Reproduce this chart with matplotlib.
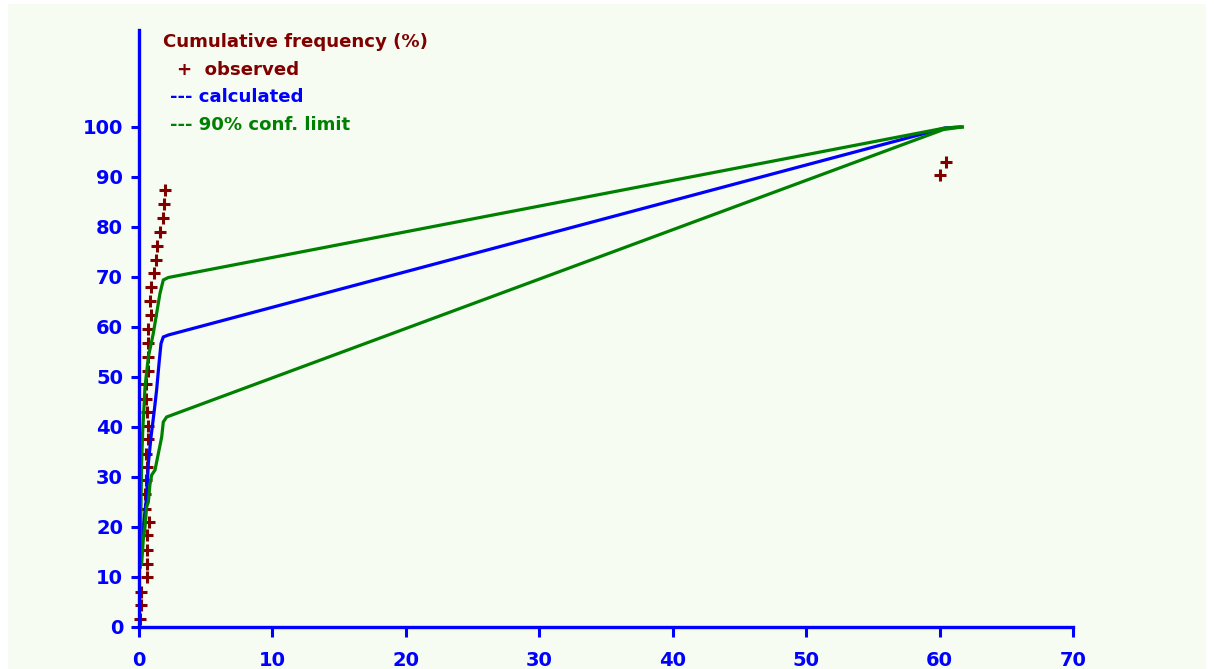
import matplotlib
matplotlib.use("Agg")
import matplotlib.pyplot as plt
from matplotlib.patches import Rectangle

# observed cumulative frequency points (x, %)
obs_x = [0.07, 0.15, 0.15, 0.57, 0.57, 0.57, 0.62, 0.75, 0.45, 0.45, 0.5, 0.62,
         0.52, 0.65, 0.65, 0.57, 0.52, 0.52, 0.65, 0.65, 0.65, 0.7, 0.9, 0.82,
         0.9, 1.12, 1.25, 1.37, 1.6, 1.8, 1.9, 1.95, 60.05, 60.5]
obs_y = [1.7, 4.4, 7.1, 10.1, 12.7, 15.5, 18.4, 21.0, 23.7, 26.6, 29.5, 32.0,
         34.7, 37.7, 40.2, 43.1, 45.7, 48.6, 51.3, 54.1, 56.9, 59.7, 62.4, 65.3,
         68.1, 70.9, 73.5, 76.2, 79.1, 81.9, 84.7, 87.4, 90.4, 93.1]

# calculated curve
calc_x = [0.05, 0.1, 0.32, 0.57, 0.7, 0.9, 1.15, 1.32, 1.5, 1.65, 1.82, 2.2, 60.4, 61.5]
calc_y = [12.0, 16.0, 20.0, 26.0, 32.7, 38.0, 43.4, 47.4, 52.7, 56.7, 58.0, 58.4, 99.8, 100.0]

# upper 90% confidence limit
up_x = [0.1, 0.15, 0.2, 0.27, 0.45, 0.7, 1.07, 1.32, 1.57, 1.82, 2.2, 60.4, 61.7]
up_y = [12.0, 25.0, 33.0, 38.7, 48.0, 54.0, 58.7, 62.7, 66.7, 69.4, 69.9, 99.8, 100.0]

# lower 90% confidence limit
lo_x = [0.2, 0.32, 0.45, 0.57, 0.7, 0.82, 0.95, 1.2, 1.45, 1.7, 1.82, 2.07, 60.3, 61.7]
lo_y = [12.7, 17.4, 20.0, 24.0, 25.0, 28.5, 30.4, 31.4, 34.7, 38.0, 41.0, 42.0, 99.5, 100.0]

x_ticks = [0, 10, 20, 30, 40, 50, 60, 70]
y_ticks = [0, 10, 20, 30, 40, 50, 60, 70, 80, 90, 100]

BG = "#f6fcf2"
BLUE = "#0000ff"
GREEN = "#008000"
RED = "#800000"
FONT = "DejaVu Sans"

W, H = 1214, 669
fig = plt.figure(figsize=(W / 100, H / 100), dpi=100, facecolor="white")
fig.patches.append(Rectangle((8 / W, 0), (1206 - 8) / W, (H - 4) / H,
                             transform=fig.transFigure, facecolor=BG,
                             edgecolor="none", zorder=-10))

left, right, bottom_px, top_px = 139, 1073, 627, 30
ax = fig.add_axes([left / W, (H - bottom_px) / H, (right - left) / W,
                   (bottom_px - top_px) / H])
ax.set_facecolor("none")
ax.set_xlim(0, 70)
ax.set_ylim(0, (bottom_px - top_px) / 5.0)

ax.plot(obs_x, obs_y, linestyle="none", marker="+", markersize=8,
        markeredgewidth=2.2, color=RED, zorder=2, clip_on=False)
ax.plot(calc_x, calc_y, color=BLUE, linewidth=2.3, zorder=3, solid_joinstyle="miter")
ax.plot(up_x, up_y, color=GREEN, linewidth=2.3, zorder=4, solid_joinstyle="miter")
ax.plot(lo_x, lo_y, color=GREEN, linewidth=2.3, zorder=4, solid_joinstyle="miter")

for s in ["top", "right"]:
    ax.spines[s].set_visible(False)
for s in ["left", "bottom"]:
    ax.spines[s].set_color(BLUE)
    ax.spines[s].set_linewidth(2.4)
    ax.spines[s].set_zorder(5)

ax.set_xticks(x_ticks)
ax.set_yticks(y_ticks)
ax.set_xticklabels([str(v) for v in x_ticks])
ax.set_yticklabels([str(v) for v in y_ticks])
ax.tick_params(axis="both", colors=BLUE, width=2.2, direction="out")
ax.tick_params(axis="x", length=7.5, pad=10)
ax.tick_params(axis="y", length=6, pad=5.5)
for lab in ax.get_xticklabels() + ax.get_yticklabels():
    lab.set_fontfamily(FONT)
    lab.set_fontweight("bold")
    lab.set_fontsize(14)
    lab.set_color(BLUE)

legend_items = [
    (163, 42, "Cumulative frequency (%)", RED),
    (177, 70, "+  observed", RED),
    (170, 97, "--- calculated", BLUE),
    (170, 125, "--- 90% conf. limit", GREEN),
]
for px, py, txt, col in legend_items:
    fig.text(px / W, 1 - py / H, txt, color=col, fontfamily=FONT,
             fontweight="bold", fontsize=13.1, va="center")

fig.savefig("out.png", dpi=100, facecolor=fig.get_facecolor())
